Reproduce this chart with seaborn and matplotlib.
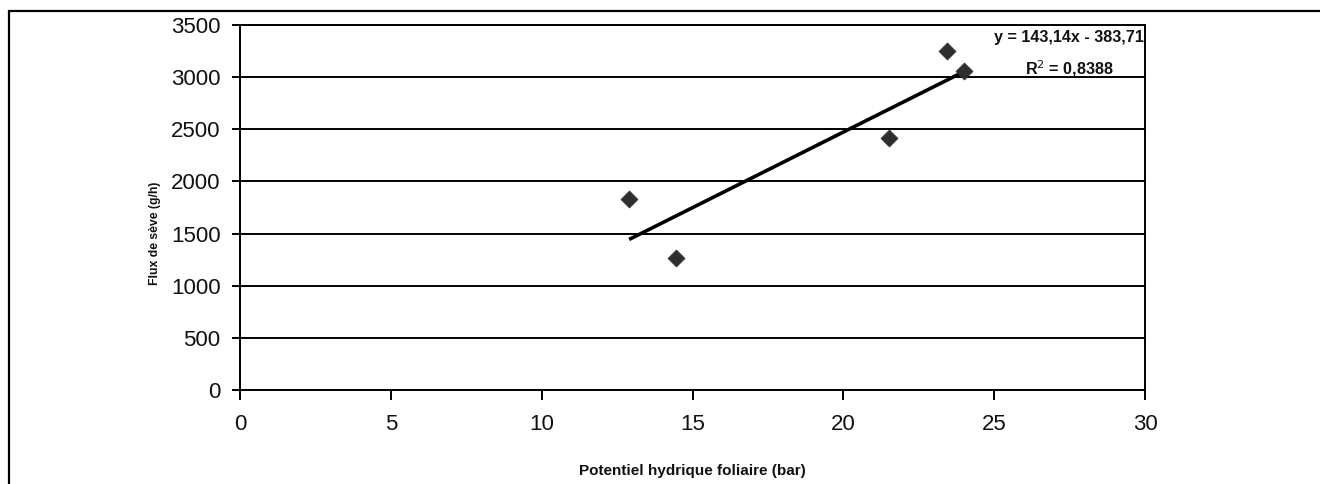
import matplotlib
matplotlib.use("Agg")
import matplotlib.pyplot as plt
import matplotlib.patches as mpatches
import seaborn as sns
import pandas as pd

# Data
potentiel = [12.9, 14.45, 21.5, 23.45, 24.0]       # Potentiel hydrique foliaire (bar)
flux = [1835, 1270, 2415, 3255, 3055]               # Flux de sève (g/h)
x_ticks = [0, 5, 10, 15, 20, 25, 30]
y_ticks = [0, 500, 1000, 1500, 2000, 2500, 3000, 3500]
equation = "y = 143,14x - 383,71"
r2_label = "R$^{2}$ = 0,8388"
x_title = "Potentiel hydrique foliaire (bar)"
y_title = "Flux de sève (g/h)"

sns.set_theme(style="white")
plt.rcParams["font.family"] = ["Liberation Sans", "DejaVu Sans"]
narrow = ["Liberation Sans Narrow", "Liberation Sans", "DejaVu Sans"]

df = pd.DataFrame({"x": potentiel, "y": flux})

fig = plt.figure(figsize=(13.2, 4.84), dpi=100)
ax = fig.add_axes([240 / 1320, 1 - 390 / 484, 905 / 1320, 365 / 484])

sns.regplot(data=df, x="x", y="y", ax=ax, scatter=False, ci=None, truncate=True,
            line_kws=dict(color="black", lw=2.6, solid_capstyle="butt", zorder=3))
sns.scatterplot(data=df, x="x", y="y", ax=ax, marker="D", s=75, color="#2e2e2e",
                edgecolor="#2e2e2e", linewidth=0.5, zorder=4)

ax.set_xlim(0, 30)
ax.set_ylim(0, 3500)
ax.set_xticks(x_ticks)
ax.set_yticks(y_ticks)
ax.set_xticklabels([str(v) for v in x_ticks])
ax.set_yticklabels([str(v) for v in y_ticks])

ax.yaxis.grid(True, color="black", lw=1.4)
ax.xaxis.grid(False)
ax.set_axisbelow(True)
for sp in ax.spines.values():
    sp.set_visible(True)
    sp.set_color("black")
    sp.set_linewidth(1.4)

ax.tick_params(axis="x", direction="out", length=7, width=1.4, color="black",
               pad=10, labelsize=16, labelcolor="#111111", bottom=True)
ax.tick_params(axis="y", direction="out", length=6, width=1.4, color="black",
               pad=8, labelsize=16, labelcolor="#111111", left=True)

ax.set_xlabel(x_title, family=narrow, fontweight="bold", fontsize=11, color="#111111")
ax.set_ylabel(y_title, family=narrow, fontweight="bold", fontsize=8.8, color="#111111")
ax.xaxis.set_label_coords(0.5, -81 / 365)
ax.xaxis.label.set_va("center")
ax.yaxis.set_label_coords(-85 / 905, (390 - 233) / 365)
ax.yaxis.label.set_va("center")

ax.text(27.48, 3337, equation, family=narrow, fontweight="bold", fontsize=11.6,
        ha="center", va="baseline", color="#111111")
ax.text(27.48, 3021, r2_label, family=narrow, fontweight="bold", fontsize=11.6,
        ha="center", va="baseline", color="#111111")

# outer chart border (clipped at right and bottom as in the reference)
border = mpatches.Rectangle((8.5 / 1320, -0.2), 1.2, 1.2 - 10.5 / 484,
                            transform=fig.transFigure, fill=False,
                            edgecolor="black", lw=1.6, clip_on=False)
fig.patches.append(border)

fig.savefig("out.png", dpi=100)
